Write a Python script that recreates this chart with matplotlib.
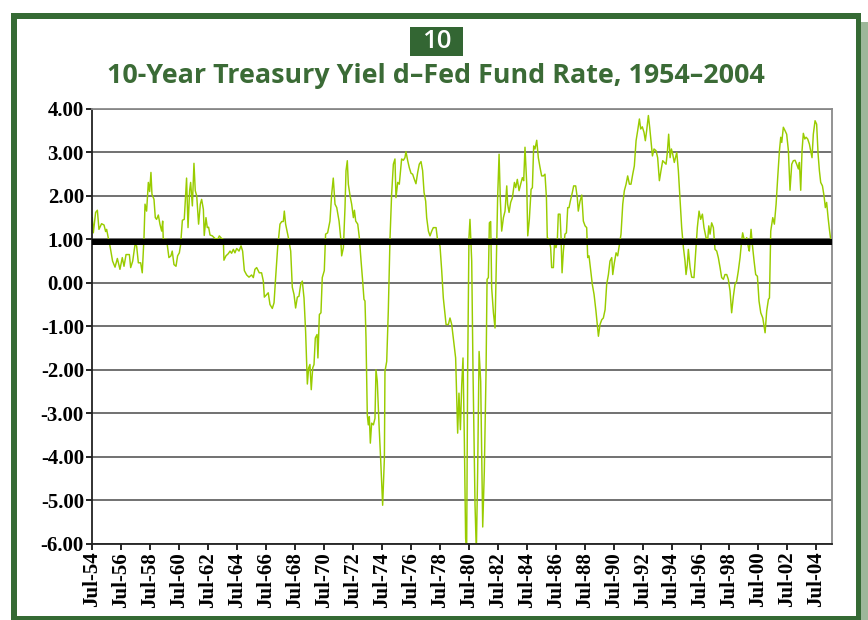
import matplotlib
matplotlib.use("Agg")
import matplotlib.pyplot as plt
from matplotlib.patches import Rectangle

# ---------------- data ----------------
dates_1954_1971 = [1954.50, 1954.57, 1954.73, 1954.85, 1954.96, 1955.14, 1955.31, 1955.42, 1955.49, 1955.60,
    1955.72, 1955.90, 1956.07, 1956.23, 1956.41, 1956.57, 1956.69, 1956.83, 1957.06, 1957.15,
    1957.29, 1957.45, 1957.56, 1957.68, 1957.84, 1957.95, 1958.07, 1958.14, 1958.25, 1958.37,
    1958.46, 1958.55, 1958.62, 1958.76, 1958.85, 1958.94, 1959.06, 1959.17, 1959.29, 1959.36,
    1959.40, 1959.63, 1959.79, 1959.93, 1960.02, 1960.14, 1960.28, 1960.39, 1960.51, 1960.60,
    1960.72, 1960.85, 1961.01, 1961.11, 1961.22, 1961.29, 1961.41, 1961.52, 1961.61, 1961.71,
    1961.84, 1961.96, 1962.05, 1962.17, 1962.23, 1962.35, 1962.44, 1962.53, 1962.63, 1962.79,
    1962.97, 1963.16, 1963.27, 1963.43, 1963.55, 1963.59, 1963.73, 1963.89, 1964.01, 1964.12,
    1964.24, 1964.35, 1964.47, 1964.63, 1964.77, 1964.88, 1965.00, 1965.16, 1965.32, 1965.50,
    1965.62, 1965.73, 1965.85, 1966.03, 1966.19, 1966.31, 1966.38, 1966.54, 1966.65, 1966.77,
    1966.93, 1967.05, 1967.16, 1967.30, 1967.46, 1967.58, 1967.69, 1967.76, 1967.85, 1968.04,
    1968.20, 1968.31, 1968.43, 1968.54, 1968.66, 1968.77, 1968.89, 1969.00, 1969.12, 1969.23,
    1969.35, 1969.44, 1969.53, 1969.62, 1969.72, 1969.81, 1969.90, 1970.02, 1970.08, 1970.18,
    1970.29, 1970.38, 1970.52, 1970.61, 1970.75, 1970.91, 1971.03, 1971.14]
spread_1954_1971 = [1.50, 1.15, 1.62, 1.67, 1.23, 1.36, 1.33, 1.18, 1.23, 1.04,
    0.85, 0.50, 0.36, 0.56, 0.31, 0.58, 0.38, 0.65, 0.65, 0.35,
    0.50, 0.88, 0.85, 0.46, 0.46, 0.23, 1.04, 1.81, 1.65, 2.31,
    2.10, 2.54, 2.04, 1.92, 1.50, 1.46, 1.56, 1.35, 1.19, 1.42,
    1.00, 1.00, 0.58, 0.62, 0.73, 0.42, 0.38, 0.62, 0.69, 0.88,
    1.44, 1.46, 2.41, 1.27, 2.12, 2.31, 1.77, 2.75, 2.12, 2.00,
    1.35, 1.81, 1.92, 1.69, 1.09, 1.50, 1.27, 1.28, 1.10, 1.08,
    1.02, 1.00, 1.08, 1.02, 1.00, 0.52, 0.62, 0.67, 0.73, 0.68,
    0.77, 0.69, 0.79, 0.73, 0.85, 0.73, 0.28, 0.18, 0.13, 0.18,
    0.12, 0.31, 0.35, 0.23, 0.23, 0.04, -0.33, -0.27, -0.23, -0.50,
    -0.59, -0.46, 0.12, 0.81, 1.35, 1.41, 1.41, 1.65, 1.35, 1.04,
    0.73, -0.10, -0.27, -0.58, -0.33, -0.31, -0.04, 0.04, -0.35, -1.12,
    -2.33, -1.96, -1.88, -2.46, -1.96, -1.88, -1.27, -1.19, -1.73, -0.73,
    -0.69, 0.12, 0.28, 1.12, 1.15, 1.42, 2.04, 2.41]

dates_1971_1988 = [1971.26, 1971.38, 1971.54, 1971.65, 1971.72, 1971.84, 1971.95, 1972.02, 1972.11, 1972.18,
    1972.30, 1972.41, 1972.53, 1972.60, 1972.69, 1972.83, 1972.94, 1973.06, 1973.17, 1973.26,
    1973.33, 1973.40, 1973.49, 1973.56, 1973.63, 1973.70, 1973.79, 1973.91, 1974.02, 1974.09,
    1974.18, 1974.30, 1974.41, 1974.55, 1974.67, 1974.71, 1974.83, 1974.94, 1975.06, 1975.17,
    1975.29, 1975.40, 1975.47, 1975.59, 1975.70, 1975.86, 1975.98, 1976.09, 1976.16, 1976.28,
    1976.39, 1976.51, 1976.62, 1976.74, 1976.85, 1976.97, 1977.08, 1977.20, 1977.31, 1977.41,
    1977.52, 1977.59, 1977.71, 1977.82, 1977.94, 1978.05, 1978.24, 1978.35, 1978.51, 1978.63,
    1978.74, 1978.93, 1979.09, 1979.20, 1979.32, 1979.43, 1979.59, 1979.73, 1979.82, 1979.92,
    1980.01, 1980.10, 1980.19, 1980.28, 1980.35, 1980.42, 1980.51, 1980.58, 1980.70, 1980.79,
    1980.93, 1981.02, 1981.11, 1981.21, 1981.32, 1981.46, 1981.57, 1981.69, 1981.76, 1981.85,
    1981.92, 1982.01, 1982.08, 1982.20, 1982.31, 1982.43, 1982.49, 1982.59, 1982.68, 1982.77,
    1982.89, 1983.00, 1983.12, 1983.18, 1983.28, 1983.39, 1983.51, 1983.65, 1983.74, 1983.85,
    1983.97, 1984.08, 1984.20, 1984.29, 1984.38, 1984.50, 1984.57, 1984.68, 1984.80, 1984.89,
    1984.98, 1985.07, 1985.19, 1985.30, 1985.42, 1985.53, 1985.65, 1985.76, 1985.86, 1985.92,
    1986.04, 1986.15, 1986.22, 1986.34, 1986.41, 1986.52, 1986.61, 1986.68, 1986.80, 1986.87,
    1986.94, 1987.03, 1987.14, 1987.24, 1987.33, 1987.42, 1987.51, 1987.65, 1987.74, 1987.88,
    1987.99, 1988.06]
spread_1971_1988 = [1.81, 1.73, 1.42, 1.04, 0.62, 0.81, 1.73, 2.58, 2.81, 2.27,
    2.00, 1.81, 1.50, 1.67, 1.42, 1.35, 1.04, 0.50, 0.04, -0.38,
    -0.42, -1.27, -3.04, -3.27, -3.08, -3.69, -3.23, -3.27, -3.12, -2.00,
    -2.27, -3.27, -4.04, -5.12, -4.04, -2.04, -1.81, -0.65, 1.04, 2.04,
    2.73, 2.85, 1.96, 2.31, 2.27, 2.85, 2.82, 2.88, 3.02, 2.81,
    2.65, 2.52, 2.50, 2.38, 2.28, 2.54, 2.73, 2.79, 2.58, 2.08,
    1.88, 1.50, 1.19, 1.08, 1.19, 1.27, 1.27, 0.96, 0.85, 0.27,
    -0.35, -0.96, -0.96, -0.81, -0.96, -1.27, -1.73, -3.46, -2.54, -3.38,
    -2.35, -1.73, -3.58, -5.88, -6.20, -2.04, 1.04, 1.46, 0.50, -2.04,
    -5.12, -6.20, -4.35, -1.58, -2.27, -5.62, -4.35, -2.04, 0.08, 0.12,
    1.38, 1.41, -0.12, -0.69, -1.04, 1.04, 1.96, 2.96, 1.88, 1.19,
    1.50, 1.65, 2.23, 1.81, 1.62, 1.85, 1.96, 2.31, 2.19, 2.38,
    2.12, 2.27, 2.42, 2.35, 3.12, 2.27, 1.08, 1.46, 2.15, 2.19,
    3.15, 3.08, 3.28, 2.88, 2.65, 2.46, 2.46, 2.50, 1.96, 1.04,
    1.00, 0.81, 0.35, 0.35, 0.88, 0.81, 0.96, 1.58, 1.58, 1.04,
    0.23, 0.73, 1.12, 1.15, 1.73, 1.73, 1.88, 2.08, 2.23, 2.23,
    1.96, 1.65]

dates_1988_2005 = [1988.18, 1988.30, 1988.41, 1988.53, 1988.64, 1988.71, 1988.80, 1988.92, 1989.03, 1989.15,
    1989.28, 1989.45, 1989.56, 1989.68, 1989.79, 1989.91, 1990.02, 1990.14, 1990.25, 1990.37,
    1990.44, 1990.55, 1990.67, 1990.78, 1990.90, 1991.01, 1991.13, 1991.24, 1991.36, 1991.47,
    1991.59, 1991.70, 1991.82, 1991.93, 1992.05, 1992.16, 1992.28, 1992.37, 1992.48, 1992.60,
    1992.69, 1992.78, 1992.90, 1992.99, 1993.08, 1993.18, 1993.29, 1993.43, 1993.54, 1993.66,
    1993.77, 1993.89, 1994.00, 1994.12, 1994.21, 1994.30, 1994.40, 1994.49, 1994.58, 1994.69,
    1994.86, 1994.97, 1995.09, 1995.20, 1995.32, 1995.43, 1995.50, 1995.59, 1995.66, 1995.78,
    1995.89, 1996.05, 1996.19, 1996.28, 1996.40, 1996.51, 1996.63, 1996.74, 1996.88, 1997.00,
    1997.07, 1997.16, 1997.27, 1997.39, 1997.50, 1997.62, 1997.73, 1997.85, 1997.96, 1998.08,
    1998.19, 1998.31, 1998.42, 1998.54, 1998.65, 1998.77, 1998.88, 1999.00, 1999.11, 1999.23,
    1999.35, 1999.41, 1999.51, 1999.58, 1999.69, 1999.81, 1999.87, 1999.99, 2000.08, 2000.20,
    2000.31, 2000.43, 2000.54, 2000.66, 2000.80, 2000.96, 2001.07, 2001.19, 2001.26, 2001.35,
    2001.49, 2001.60, 2001.72, 2001.83, 2001.95, 2002.04, 2002.11, 2002.22, 2002.34, 2002.45,
    2002.57, 2002.68, 2002.80, 2002.91, 2003.03, 2003.14, 2003.26, 2003.33, 2003.42, 2003.51,
    2003.60, 2003.70, 2003.79, 2003.90, 2004.02, 2004.11, 2004.20, 2004.29, 2004.41, 2004.52,
    2004.62, 2004.71, 2004.80, 2004.92, 2005.03, 2005.12, 2005.21, 2005.31, 2005.40, 2005.49]
spread_1988_2005 = [1.88, 2.02, 1.42, 1.31, 1.27, 0.58, 0.62, 0.27, -0.04, -0.27,
    -0.65, -1.23, -0.96, -0.85, -0.81, -0.62, -0.04, 0.19, 0.50, 0.58,
    0.19, 0.46, 0.69, 0.62, 0.88, 1.12, 1.81, 2.12, 2.27, 2.46,
    2.27, 2.27, 2.50, 2.69, 3.27, 3.50, 3.77, 3.54, 3.59, 3.46,
    3.27, 3.50, 3.85, 3.58, 3.27, 2.92, 3.08, 3.04, 2.88, 2.35,
    2.58, 2.81, 2.77, 2.73, 3.00, 3.42, 2.88, 3.08, 2.96, 2.77,
    3.00, 2.58, 1.88, 1.27, 0.81, 0.50, 0.19, 0.42, 0.77, 0.35,
    0.13, 0.12, 0.81, 1.27, 1.65, 1.46, 1.58, 1.27, 1.04, 1.00,
    1.31, 1.12, 1.38, 1.27, 0.77, 0.73, 0.58, 0.35, 0.12, 0.08,
    0.19, 0.19, 0.08, -0.19, -0.69, -0.31, -0.04, 0.04, 0.27, 0.58,
    1.00, 1.15, 1.00, 0.88, 1.04, 0.81, 0.73, 1.23, 0.88, 0.50,
    0.19, 0.15, -0.42, -0.69, -0.81, -1.15, -0.65, -0.38, -0.35, 1.19,
    1.50, 1.35, 1.81, 2.42, 3.04, 3.35, 3.23, 3.58, 3.50, 3.42,
    3.04, 2.13, 2.73, 2.81, 2.82, 2.73, 2.62, 2.77, 2.13, 3.04,
    3.44, 3.31, 3.35, 3.31, 3.19, 3.04, 2.88, 3.42, 3.73, 3.65,
    2.96, 2.58, 2.31, 2.23, 2.00, 1.73, 1.85, 1.50, 1.23, 1.00]

average_level = 0.95

tick_years = [1954.5 + 2 * i for i in range(26)]
tick_labels = ["Jul-%02d" % (int(y) % 100) for y in tick_years]
y_ticks = [4, 3, 2, 1, 0, -1, -2, -3, -4, -5, -6]
y_tick_labels = ["%.2f" % v for v in y_ticks]

title_badge = "10"
title_text = "10-Year Treasury Yiel d\u2013Fed Fund Rate, 1954\u20132004"

dates = dates_1954_1971 + dates_1971_1988 + dates_1988_2005
spread = spread_1954_1971 + spread_1971_1988 + spread_1988_2005

# ---------------- figure ----------------
W, H = 868, 620
fig = plt.figure(figsize=(W / 100, H / 100), dpi=100)
fig.patch.set_facecolor("white")

DARK_GREEN = "#356a34"

def px_rect(x0, y0, x1, y1, **kw):
    r = Rectangle((x0 / W, 1 - y1 / H), (x1 - x0) / W, (y1 - y0) / H,
                  transform=fig.transFigure, **kw)
    fig.add_artist(r)
    return r

# shadow + frame
px_rect(861, 22, 868, 620, facecolor="#9db79a", edgecolor="none", zorder=0)
px_rect(11, 13, 861, 624, facecolor=DARK_GREEN, edgecolor="none", zorder=0)
px_rect(17, 19, 856, 616, facecolor="white", edgecolor="none", zorder=0)

# badge
px_rect(410, 27, 463, 56, facecolor="#336633", edgecolor="none", zorder=1)
fig.text(436.5 / W, 1 - 42 / H, title_badge, color="white", fontsize=18.5,
         family=["Open Sans", "DejaVu Sans"], weight="semibold",
         ha="center", va="center", zorder=2)

t = fig.text(436 / W, 1 - 76 / H, title_text, color="#3b6b36", fontsize=18,
             family=["Open Sans", "DejaVu Sans"], weight="bold",
             ha="center", va="center", zorder=2)
# fit title width to the reference
fig.canvas.draw()
bb = t.get_window_extent()
t.set_fontsize(18 * 658 / bb.width)

ax = fig.add_axes([92.3 / W, 1 - 543.5 / H, (832 - 92.3) / W, (543.5 - 109) / H])
ax.set_facecolor("white")
ax.set_xlim(1954.5, 2005.58)
ax.set_ylim(-6, 4)

for v in y_ticks:
    ax.axhline(v, color="#666666", lw=1.3, zorder=1)

ax.plot(dates, spread, color="#99cc00", lw=1.05, zorder=2)
ax.axhline(average_level, color="black", lw=4.3, zorder=3)

ax.set_yticks(y_ticks)
ax.set_yticklabels(y_tick_labels)
ax.set_xticks(tick_years)
ax.set_xticklabels(tick_labels, rotation=90)

serif = ["Liberation Serif", "DejaVu Serif"]
for lab in ax.get_yticklabels() + ax.get_xticklabels():
    lab.set_family(serif)
    lab.set_weight("bold")
    lab.set_fontsize(15)
    lab.set_color("black")

ax.tick_params(axis="y", direction="out", length=4, width=1.2, pad=2, colors="black")
ax.tick_params(axis="x", direction="out", length=4, width=1.2, pad=2, colors="black")

for side in ["left", "bottom"]:
    ax.spines[side].set_color("#222222")
    ax.spines[side].set_linewidth(1.3)
for side in ["top", "right"]:
    ax.spines[side].set_color("#8a8a8a")
    ax.spines[side].set_linewidth(1.3)

fig.savefig("out.png", dpi=100, facecolor="white")
